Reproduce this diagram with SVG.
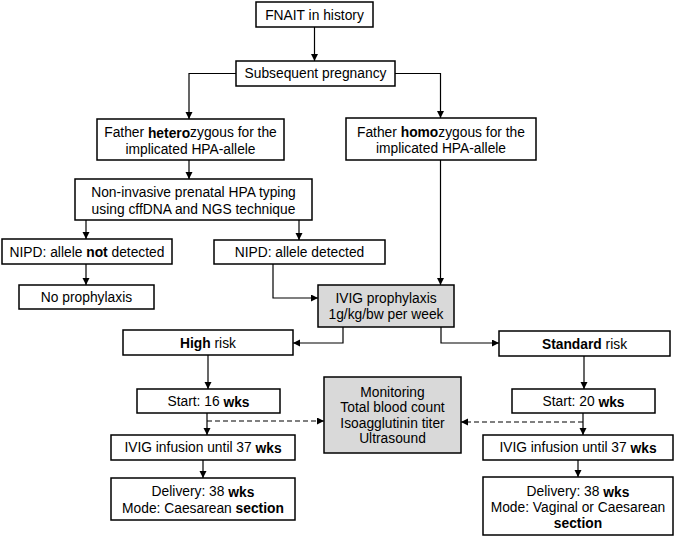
<svg xmlns="http://www.w3.org/2000/svg" width="685" height="537" viewBox="0 0 685 537">
<defs>
<marker id="ah" markerUnits="userSpaceOnUse" markerWidth="8" markerHeight="8" refX="7" refY="3.5" orient="auto">
<path d="M0,0 L7,3.5 L0,7 Z" fill="#000"/>
</marker>
<style>
rect{fill:#fff;stroke:#000;stroke-width:1.5}
rect.g{fill:#d9d9d9}
text{font-family:"Liberation Sans",Arial,sans-serif;font-size:13.8px;fill:#000;text-anchor:middle;dominant-baseline:central}
.b{font-weight:bold}
#connectors path{fill:none;stroke:#000;stroke-width:1.2;marker-end:url(#ah)}
#connectors path.d{stroke-dasharray:5,3}
</style>
</defs>
<rect x="0" y="0" width="685" height="537" style="fill:#fff;stroke:none"/>
<g id="connectors">
<path d="M314.5,27 V61"/>
<path d="M236,73.5 H189 V119"/>
<path d="M395,73.5 H440.5 V118"/>
<path d="M189,160 V179"/>
<path d="M86,220 V239"/>
<path d="M299,220 V240"/>
<path d="M86,264 V285"/>
<path d="M273,264 V298 H318"/>
<path d="M440.5,160 V285"/>
<path d="M343,327 V343 H293"/>
<path d="M441,327 V343 H499"/>
<path d="M208,355 V389"/>
<path d="M584,356 V389"/>
<path d="M207,413 V435"/>
<path d="M583,413 V435"/>
<path d="M203,460 V478"/>
<path d="M578,460 V477"/>
<path class="d" d="M207,421 H324"/>
<path class="d" d="M583,422 H461"/>
</g>
<g id="fnait"><rect x="256" y="2" width="117" height="25"/><text x="314.5" y="15">FNAIT in history</text></g>
<g id="subsequent"><rect x="236" y="61" width="159" height="25"/><text x="315.5" y="73.5">Subsequent pregnancy</text></g>
<g id="hetero"><rect x="97" y="119" width="187" height="41"/><text x="190.5" y="132.5">Father <tspan class="b">hetero</tspan>zygous for the</text><text x="190.5" y="149">implicated HPA-allele</text></g>
<g id="homo"><rect x="346" y="118" width="190" height="42"/><text x="441" y="132">Father <tspan class="b">homo</tspan>zygous for the</text><text x="441" y="148">implicated HPA-allele</text></g>
<g id="nipt"><rect x="75" y="179" width="237" height="41"/><text x="193.5" y="192.5">Non-invasive prenatal HPA typing</text><text x="193.5" y="209">using cffDNA and NGS technique</text></g>
<g id="notdetected"><rect x="2" y="239" width="170" height="25"/><text x="87" y="252">NIPD: allele <tspan class="b">not</tspan> detected</text></g>
<g id="noprophylaxis"><rect x="19" y="285" width="135" height="24"/><text x="86.5" y="297.5">No prophylaxis</text></g>
<g id="detected"><rect x="214" y="240" width="171" height="24"/><text x="299.5" y="252.5">NIPD: allele detected</text></g>
<g id="ivig"><rect class="g" x="318" y="285" width="136" height="42"/><text x="386" y="298.5">IVIG prophylaxis</text><text x="386" y="314.5">1g/kg/bw per week</text></g>
<g id="highrisk"><rect x="123" y="330" width="170" height="25"/><text x="208" y="343"><tspan class="b">High</tspan> risk</text></g>
<g id="standardrisk"><rect x="499" y="331" width="171" height="25"/><text x="584.5" y="344"><tspan class="b">Standard</tspan> risk</text></g>
<g id="start16"><rect x="137" y="389" width="143" height="24"/><text x="208.5" y="401.5">Start: 16 <tspan class="b">wks</tspan></text></g>
<g id="start20"><rect x="512" y="389" width="143" height="24"/><text x="583.5" y="401.5">Start: 20 <tspan class="b">wks</tspan></text></g>
<g id="monitoring"><rect class="g" x="324" y="377" width="137" height="76"/><text x="392.5" y="392">Monitoring</text><text x="392.5" y="407.5">Total blood count</text><text x="392.5" y="423">Isoagglutinin titer</text><text x="392.5" y="438.5">Ultrasound</text></g>
<g id="infusion16"><rect x="111" y="435" width="184" height="25"/><text x="203" y="447.5">IVIG infusion until 37 <tspan class="b">wks</tspan></text></g>
<g id="infusion20"><rect x="483" y="435" width="190" height="25"/><text x="578" y="447.5">IVIG infusion until 37 <tspan class="b">wks</tspan></text></g>
<g id="delivery16"><rect x="111" y="478" width="184" height="42"/><text x="203" y="491.5">Delivery: 38 <tspan class="b">wks</tspan></text><text x="203" y="508">Mode: Caesarean <tspan class="b">section</tspan></text></g>
<g id="delivery20"><rect x="483" y="477" width="190" height="58"/><text x="578" y="491.5">Delivery: 38 <tspan class="b">wks</tspan></text><text x="578" y="507.5">Mode: Vaginal or Caesarean</text><text x="578" y="523.5" class="b">section</text></g>
</svg>
